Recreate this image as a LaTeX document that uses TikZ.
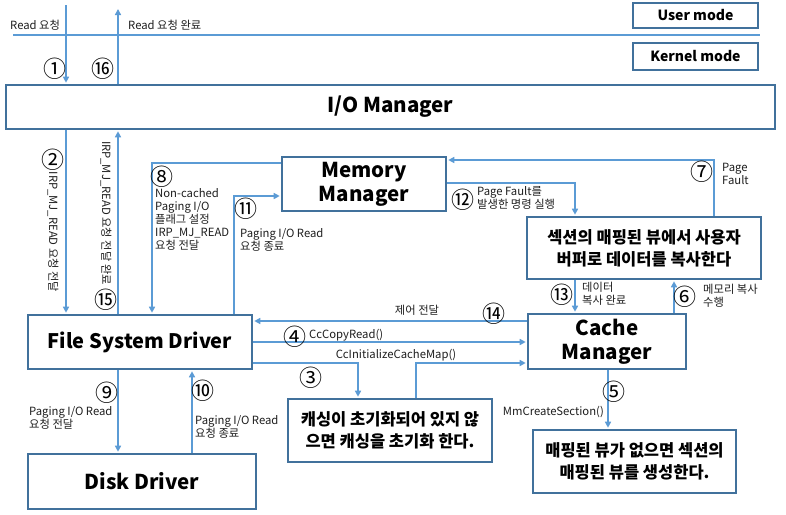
\documentclass[tikz,border=0pt]{standalone}
\usepackage{fontspec}
\setmainfont{Noto Sans CJK KR}
\usetikzlibrary{arrows.meta}
\definecolor{boxc}{RGB}{65,113,156}
\definecolor{arrc}{RGB}{91,155,213}
\definecolor{txtc}{RGB}{30,30,30}
\tikzset{
  box/.style={draw=boxc, line width=2.6pt, fill=white, align=center, inner sep=0pt, font=\fontsize{20.5}{24}\selectfont\bfseries},
  kbox/.style={box, font=\fontsize{16.5}{22}\selectfont\bfseries},
  mbox/.style={draw=boxc, line width=2pt, fill=white, inner sep=0pt, font=\fontsize{14}{16}\selectfont\bfseries},
  arr/.style={draw=arrc, line width=1.8pt, -{Triangle[length=6pt,width=6pt]}, shorten >=1pt},
  sepline/.style={draw=arrc, line width=1.4pt},
  lbl/.style={font=\fontsize{11.3}{13}\selectfont, text=txtc, inner sep=0pt, align=left},
  num/.style={font=\fontsize{23}{23}\selectfont, text=black, inner sep=0pt},
}
\begin{document}
\begin{tikzpicture}[x=1pt,y=-1pt]
\useasboundingbox[fill=white] (0,0) rectangle (786,514);
% boxes
\node[mbox, minimum width=125pt, minimum height=25pt] (um) at (695.5,15.5) {User mode};
\node[mbox, minimum width=125pt, minimum height=27pt] (km) at (695.5,56.5) {Kernel mode};
\node[box, minimum width=769pt, minimum height=44pt] (iom) at (390.5,107) {I/O Manager};
\node[box, minimum width=164pt, minimum height=54pt] (mm) at (364,184) {Memory\\Manager};
\node[kbox, minimum width=234pt, minimum height=62pt] (copy) at (644,248) {섹션의 매핑된 뷰에서 사용자\\버퍼로 데이터를 복사한다};
\node[box, minimum width=158pt, minimum height=55pt] (cm) at (607,341.5) {Cache\\Manager};
\node[kbox, minimum width=204pt, minimum height=63pt] (init) at (390,430.5) {캐싱이 초기화되어 있지 않\\으면 캐싱을 초기화 한다.};
\node[kbox, minimum width=203pt, minimum height=63pt] (res) at (634.5,461.5) {매핑된 뷰가 없으면 섹션의\\매핑된 뷰를 생성한다.};
\node[box, font=\fontsize{20}{24}\selectfont\bfseries, minimum width=224pt, minimum height=54pt] (fsd) at (140,342) {File System Driver};
\node[box, minimum width=228pt, minimum height=55pt] (dd) at (142,481.5) {Disk Driver};
% helper coordinates
\coordinate (sepL) at (13,35);
\coordinate (sepR) at (760,35);
\coordinate (r1) at (66,5);
\coordinate (r16) at (118,8);
\coordinate (c8) at (152,163);
\coordinate (c11) at (234,196);
\coordinate (c7) at (714,160);
\coordinate (c12) at (575,183);
\coordinate (c6) at (674,300);
\coordinate (c14) at (400,321);
\coordinate (c4) at (400,342);
\coordinate (c3a) at (358,363);
\coordinate (c3b) at (416,363);
\coordinate (c5) at (608,400);
\coordinate (c9) at (118,400);
\coordinate (c10) at (192,400);
% connectors
\draw[sepline] (sepL) -- (sepR);
\draw[arr] (r1) -- (r1 |- iom.north);
\draw[arr] (r16 |- iom.north) -- (r16);
\draw[arr] (iom.south -| r1) -- (fsd.north -| r1);
\draw[arr] (fsd.north -| r16) -- (iom.south -| r16);
\draw[arr] (c8 -| mm.west) -- (c8) -- (c8 |- fsd.north);
\draw[arr] (c11 |- fsd.north) -- (c11) -- (c11 -| mm.west);
\draw[arr] (c7 |- copy.north) -- (c7) -- (c7 -| mm.east);
\draw[arr] (c12 -| mm.east) -- (c12) -- (c12 |- copy.north);
\draw[arr] (copy.south -| c12) -- (cm.north -| c12);
\draw[arr] (cm.north -| c6) -- (copy.south -| c6);
\draw[arr] (cm.west |- c14) -- (fsd.east |- c14);
\draw[arr] (fsd.east |- c4) -- (cm.west |- c4);
\draw[arr] (fsd.east |- c3a) -- (c3a) -- (c3a |- init.north);
\draw[arr] (init.north -| c3b) -- (c3b) -- (c3b -| cm.west);
\draw[arr] (cm.south -| c5) -- (res.north -| c5);
\draw[arr] (fsd.south -| c9) -- (dd.north -| c9);
\draw[arr] (dd.north -| c10) -- (fsd.south -| c10);
% labels
\node[lbl, anchor=west] (t1) at (10,25) {Read 요청};
\node[lbl, anchor=west] (t16) at (128,25) {Read 요청 완료};
\node[lbl, rotate=-90] (t2) at (53,232) {IRP\_MJ\_READ 요청 전달};
\node[lbl, rotate=-90] (t15) at (106,213) {IRP\_MJ\_READ 요청 전달 완료};
\node[lbl, anchor=north west] (t8) at (155,188) {Non-cached\\Paging I/O\\플래그 설정\\IRP\_MJ\_READ\\요청 전달};
\node[lbl, anchor=north west] (t11) at (240,228) {Paging I/O Read\\요청 종료};
\node[lbl, anchor=north west] (t7) at (722,163) {Page\\Fault};
\node[lbl, anchor=north west] (t12) at (477,186) {Page Fault를\\발생한 명령 실행};
\node[lbl, anchor=north west] (t13) at (582,282) {데이터\\복사 완료};
\node[lbl, anchor=north west] (t6) at (703,284) {메모리 복사\\수행};
\node[lbl] (t14) at (417,310) {제어 전달};
\node[lbl, anchor=west] (t4) at (309,335) {CcCopyRead()};
\node[lbl] (t3) at (396,355) {CcInitializeCacheMap()};
\node[lbl, anchor=east] (t5) at (604,412) {MmCreateSection()};
\node[lbl, anchor=north west] (t9) at (29,406) {Paging I/O Read\\요청 전달};
\node[lbl, anchor=north west] (t10) at (195,415) {Paging I/O Read\\요청 종료};
% circled numbers
\node[num] (n1) at (55,69) {①};
\node[num] (n16) at (103,69) {⑯};
\node[num] (n2) at (53,160) {②};
\node[num] (n15) at (106,300) {⑮};
\node[num] (n8) at (162,177) {⑧};
\node[num] (n11) at (246,209) {⑪};
\node[num] (n7) at (702,172) {⑦};
\node[num] (n12) at (463,200) {⑫};
\node[num] (n13) at (562,295) {⑬};
\node[num] (n6) at (685,297) {⑥};
\node[num] (n14) at (494,314) {⑭};
\node[num] (n4) at (295,337) {④};
\node[num] (n3) at (311,378) {③};
\node[num] (n5) at (614,392) {⑤};
\node[num] (n9) at (107,393) {⑨};
\node[num] (n10) at (203,391) {⑩};
\end{tikzpicture}
\end{document}
